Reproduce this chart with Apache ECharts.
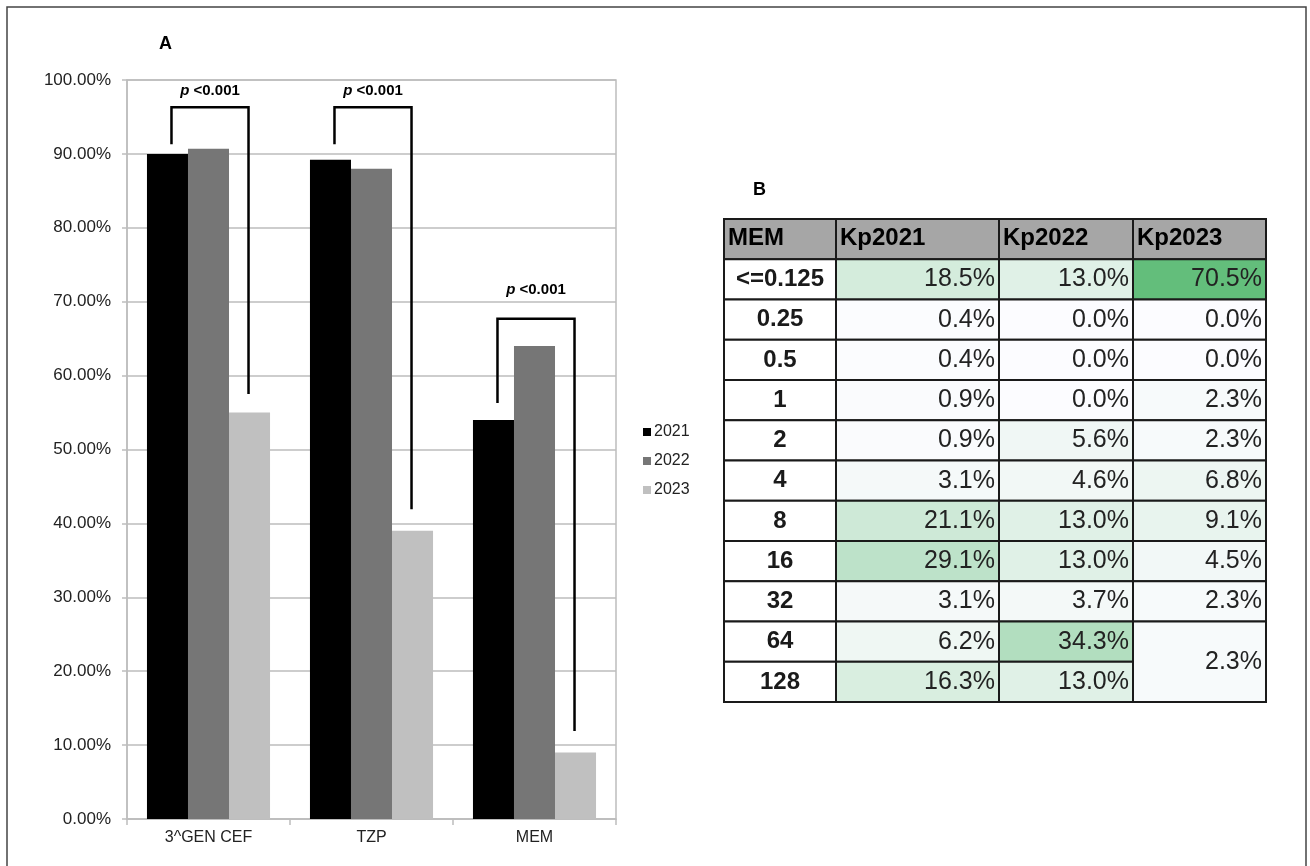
<!DOCTYPE html>
<html><head><meta charset="utf-8">
<script src="https://cdn.jsdelivr.net/npm/echarts@6/dist/echarts.min.js"></script>
<style>html,body{margin:0;padding:0;background:#fff}#c{width:1310px;height:866px}</style>
</head><body><div id="c"></div>
<script>
// ---- Panel A data ----
const categories = ['3^GEN CEF', 'TZP', 'MEM'];
const yearNames = ['2021', '2022', '2023'];
const values2021 = [90.0, 89.2, 54.0];
const values2022 = [90.7, 88.0, 64.0];
const values2023 = [55.0, 39.0, 9.0];
// significance brackets (value levels, %)
const bracketTop = [96.3, 96.3, 67.7];
const bracketLeftEnd = [91.3, 91.3, 56.3];
const bracketRightEnd = [57.5, 41.9, 11.9];
const pLabelLevel = [98.5, 98.5, 71.6];
const pTexts = ['p <0.001', 'p <0.001', 'p <0.001'];

// ---- Panel B data ----
const tableHeaders = ['MEM', 'Kp2021', 'Kp2022', 'Kp2023'];
const micLabels = ['<=0.125', '0.25', '0.5', '1', '2', '4', '8', '16', '32', '64', '128'];
const kp2021 = [18.5, 0.4, 0.4, 0.9, 0.9, 3.1, 21.1, 29.1, 3.1, 6.2, 16.3];
const kp2022 = [13.0, 0.0, 0.0, 0.0, 5.6, 4.6, 13.0, 13.0, 3.7, 34.3, 13.0];
const kp2023 = [70.5, 0.0, 0.0, 2.3, 2.3, 6.8, 9.1, 4.5, 2.3, 2.3]; // last value spans rows '64' and '128'

const FONT = '"Liberation Sans", Arial, Helvetica, sans-serif';
const BAR_GAP = 0.245;
const colEdges = [0, 112, 275, 409, 542]; // table column layout (px units of table grid)

// build table cell data
const valueCells = [];
kp2021.forEach((v, r) => valueCells.push([1, r + 1, 1, v]));
kp2022.forEach((v, r) => valueCells.push([2, r + 1, 1, v]));
kp2023.forEach((v, r) => valueCells.push([3, r + 1, (r === kp2023.length - 1) ? micLabels.length - r : 1, v]));
const headerCells = tableHeaders.map((h, c) => [c, 0, 1]);
const labelCells = micLabels.map((m, r) => [0, r + 1, 1]);

function cellRect(api, c, row, span) {
  const p0 = api.coord([colEdges[c], row]);
  const p1 = api.coord([colEdges[c + 1], row + span]);
  return { x: p0[0], y: p0[1], width: p1[0] - p0[0], height: p1[1] - p0[1] };
}

const chart = echarts.init(document.getElementById('c'), null, { renderer: 'canvas' });
const option = {
  animation: false,
  backgroundColor: '#ffffff',
  textStyle: { fontFamily: FONT },
  title: [
    { text: 'A', left: 159, top: 35, padding: 0, textStyle: { fontSize: 18, fontWeight: 'bold', color: '#000', fontFamily: FONT } },
    { text: 'B', left: 753, top: 181, padding: 0, textStyle: { fontSize: 18, fontWeight: 'bold', color: '#000', fontFamily: FONT } }
  ],
  graphic: [
    { type: 'polyline', shape: { points: [[7, 866], [7, 7], [1306, 7], [1306, 866]] }, style: { stroke: '#444', lineWidth: 1.5, fill: null }, silent: true }
  ],
  legend: {
    orient: 'vertical', left: 643, top: 424, padding: 0,
    data: yearNames,
    icon: 'rect', itemWidth: 8, itemHeight: 8, itemGap: 13,
    textStyle: { fontSize: 16, color: '#222', lineHeight: 16, fontFamily: FONT, padding: [0, 0, 0, -2] }
  },
  grid: [
    { left: 127, right: 694, top: 80, bottom: 47, show: true, borderColor: '#bdbdbd', borderWidth: 1.5, backgroundColor: 'transparent' },
    { left: 724, top: 219, width: 542, height: 483 }
  ],
  xAxis: [
    {
      type: 'category', gridIndex: 0, data: categories,
      axisLine: { show: true, lineStyle: { color: '#bdbdbd', width: 1.5 } },
      axisTick: { show: true, length: 6, alignWithLabel: false, lineStyle: { color: '#bdbdbd', width: 1.5 } },
      axisLabel: { fontSize: 16, color: '#222', margin: 11, fontFamily: FONT }
    },
    { type: 'value', gridIndex: 1, min: 0, max: 542, show: false }
  ],
  yAxis: [
    {
      type: 'value', gridIndex: 0, min: 0, max: 100, interval: 10,
      axisLine: { show: true, lineStyle: { color: '#bdbdbd', width: 1.5 } },
      axisTick: { show: true, length: 5, lineStyle: { color: '#bdbdbd', width: 1.5 } },
      splitLine: { show: true, lineStyle: { color: '#bdbdbd', width: 1.5 } },
      axisLabel: { fontSize: 17, color: '#222', margin: 16, fontFamily: FONT, formatter: v => v.toFixed(2) + '%' }
    },
    { type: 'value', gridIndex: 1, min: 0, max: 12, inverse: true, show: false }
  ],
  visualMap: {
    type: 'continuous', show: false, seriesIndex: 6, dimension: 3,
    min: 0, max: 70.5, inRange: { color: ['#FCFCFF', '#63BE7B'] }
  },
  series: [
    { name: '2021', type: 'bar', data: values2021, barGap: '0%', barCategoryGap: (BAR_GAP * 100) + '%', itemStyle: { color: '#000000' } },
    { name: '2022', type: 'bar', data: values2022, barGap: '0%', barCategoryGap: (BAR_GAP * 100) + '%', itemStyle: { color: '#767676' } },
    { name: '2023', type: 'bar', data: values2023, barGap: '0%', barCategoryGap: (BAR_GAP * 100) + '%', itemStyle: { color: '#c0c0c0' } },
    {
      name: 'brackets', type: 'custom', xAxisIndex: 0, yAxisIndex: 0, silent: true,
      data: categories.map((c, i) => [i, bracketTop[i], bracketLeftEnd[i], bracketRightEnd[i], pLabelLevel[i]]),
      encode: { x: 0, y: 1 },
      renderItem: function (params, api) {
        const i = api.value(0);
        const top = api.coord([i, api.value(1)]);
        const l = api.coord([i, api.value(2)]);
        const r = api.coord([i, api.value(3)]);
        const lab = api.coord([i, api.value(4)]);
        const catW = api.size([1, 0])[0];
        const barW = catW * (1 - BAR_GAP) / 3;
        const cx = top[0];
        const xl = cx - barW + 4, xr = cx + barW - 1;
        const s = pTexts[params.dataIndex];
        return {
          type: 'group', children: [
            { type: 'polyline', shape: { points: [[xl, l[1]], [xl, top[1]], [xr, top[1]], [xr, r[1]]] }, style: { stroke: '#000', lineWidth: 2.5, fill: null } },
            {
              type: 'text', x: (xl + xr) / 2, y: lab[1],
              style: {
                text: '{i|' + s.slice(0, 1) + '}{b|' + s.slice(1) + '}',
                align: 'center', verticalAlign: 'middle',
                rich: {
                  i: { fontSize: 15, fontWeight: 'bold', fontStyle: 'italic', fontFamily: FONT, fill: '#000' },
                  b: { fontSize: 15, fontWeight: 'bold', fontFamily: FONT, fill: '#000' }
                }
              }
            }
          ]
        };
      }
    },
    {
      name: 'header', type: 'custom', xAxisIndex: 1, yAxisIndex: 1, silent: true,
      data: headerCells, encode: { x: 0, y: 1 },
      renderItem: function (params, api) {
        const rc = cellRect(api, api.value(0), api.value(1), api.value(2));
        return {
          type: 'group', children: [
            { type: 'rect', shape: rc, style: { fill: '#a6a6a6', stroke: '#1a1a1a', lineWidth: 2 } },
            { type: 'text', x: rc.x + 4, y: rc.y + rc.height / 2 - 1, style: { text: tableHeaders[params.dataIndex], align: 'left', verticalAlign: 'middle', fontSize: 24, fontWeight: 'bold', fontFamily: FONT, fill: '#000' } }
          ]
        };
      }
    },
    {
      name: 'rowLabels', type: 'custom', xAxisIndex: 1, yAxisIndex: 1, silent: true,
      data: labelCells, encode: { x: 0, y: 1 },
      renderItem: function (params, api) {
        const rc = cellRect(api, api.value(0), api.value(1), api.value(2));
        return {
          type: 'group', children: [
            { type: 'rect', shape: rc, style: { fill: '#ffffff', stroke: '#1a1a1a', lineWidth: 2 } },
            { type: 'text', x: rc.x + rc.width / 2, y: rc.y + rc.height / 2, style: { text: micLabels[params.dataIndex], align: 'center', verticalAlign: 'middle', fontSize: 24, fontWeight: 'bold', fontFamily: FONT, fill: '#1a1a1a' } }
          ]
        };
      }
    },
    {
      name: 'values', type: 'custom', xAxisIndex: 1, yAxisIndex: 1, silent: true,
      data: valueCells, encode: { x: 0, y: 1 },
      dimensions: ['col', 'row', 'span', 'pct'],
      renderItem: function (params, api) {
        const rc = cellRect(api, api.value(0), api.value(1), api.value(2));
        return {
          type: 'group', children: [
            { type: 'rect', shape: rc, style: { fill: api.visual('color'), stroke: '#1a1a1a', lineWidth: 2 } },
            { type: 'text', x: rc.x + rc.width - 4, y: rc.y + rc.height / 2, style: { text: api.value(3).toFixed(1) + '%', align: 'right', verticalAlign: 'middle', fontSize: 25, fontFamily: FONT, fill: '#222' } }
          ]
        };
      }
    }
  ]
};
chart.setOption(option);
</script>
</body></html>
